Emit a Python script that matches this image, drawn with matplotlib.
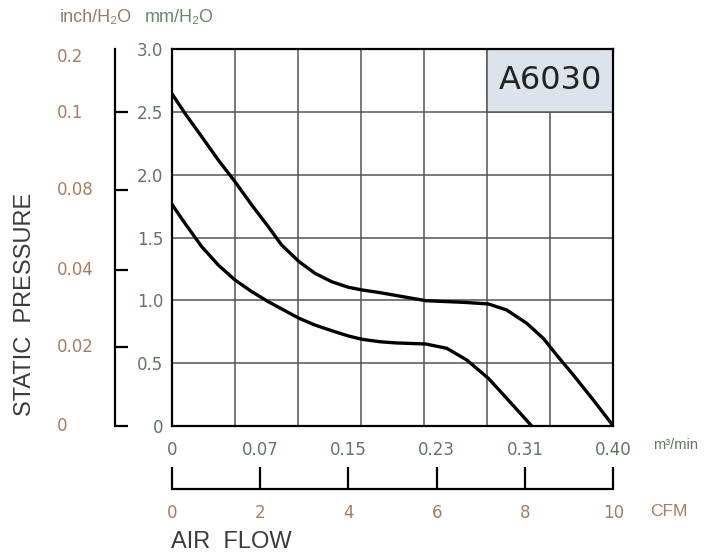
import numpy as np
import matplotlib
matplotlib.use("Agg")
from matplotlib import pyplot as plt
from matplotlib import transforms
from matplotlib.patches import Rectangle

# curves: flow in m3/min, pressure in mm H2O
high_flow = [0, 0.012, 0.0272, 0.0422, 0.0573, 0.0725, 0.0875, 0.0996, 0.1153, 0.1298,
             0.1449, 0.16, 0.1727, 0.1887, 0.2301, 0.2641, 0.2868, 0.3034, 0.3216,
             0.3366, 0.3487, 0.3638, 0.3819, 0.40]
high_pres = [2.649, 2.490, 2.304, 2.118, 1.946, 1.760, 1.587, 1.441, 1.309, 1.216,
             1.149, 1.105, 1.083, 1.062, 0.998, 0.985, 0.972, 0.924, 0.818,
             0.698, 0.565, 0.406, 0.207, 0]
low_flow = [0, 0.012, 0.0272, 0.0422, 0.0573, 0.0725, 0.0875, 0.1026, 0.1153, 0.1298,
            0.1449, 0.16, 0.1727, 0.1887, 0.2023, 0.2301, 0.2491, 0.2672, 0.2868,
            0.3034, 0.3261]
low_pres = [1.768, 1.614, 1.428, 1.282, 1.163, 1.070, 0.990, 0.918, 0.858, 0.804,
            0.759, 0.717, 0.690, 0.671, 0.662, 0.653, 0.619, 0.526, 0.380,
            0.221, 0]

flow_ticks = [0, 0.08, 0.16, 0.24, 0.32, 0.40]
flow_labels = ["0", "0.07", "0.15", "0.23", "0.31", "0.40"]
cfm_ticks = [0, 2, 4, 6, 8, 10]
mm_ticks = [0, 0.5, 1.0, 1.5, 2.0, 2.5, 3.0]
mm_labels = ["0", "0.5", "1.0", "1.5", "2.0", "2.5", "3.0"]
# inch marks, placed on the mm scale
inch_ticks = [0, 0.63, 1.24, 1.88, 2.5]
inch_labels = ["0", "0.02", "0.04", "0.08", "0.1", "0.2"]
inch_label_pos = [0.0, 0.63, 1.24, 1.88, 2.49, 2.94]
model = "A6030"

BROWN = "#a97c62"
GREEN = "#5f765f"
GREY = "#3a3a3a"
NUM_FONT = "DejaVu Sans"

plt.rcParams['font.family'] = ['Liberation Sans', 'DejaVu Sans']

W, H = 726, 556
fig = plt.figure(figsize=(W / 100, H / 100), dpi=100)


def box(l, t, r, b):
    return [l / W, 1 - b / H, (r - l) / W, (b - t) / H]


# main chart
ax = fig.add_axes(box(171.7, 49.3, 613.3, 426))
for xs, ys in [(high_flow, high_pres), (low_flow, low_pres)]:
    ax.plot(xs, ys, color='black', lw=2.4, solid_capstyle='round',
            solid_joinstyle='round', zorder=4)
ax.set_xlim(0, 0.4)
ax.set_ylim(0, 3)
ax.set_xticks(flow_ticks)
ax.set_xticklabels(flow_labels, color=GREEN, fontsize=12, family=NUM_FONT)
ax.set_xticks(np.linspace(0, 0.4, 8), minor=True)
ax.set_yticks(mm_ticks)
ax.set_yticklabels(mm_labels, color=GREEN, fontsize=12, family=NUM_FONT)
ax.tick_params(which='both', length=0)
ax.tick_params(axis='x', pad=11)
ax.tick_params(axis='y', pad=6)
ax.grid(which='minor', axis='x', color='#555555', lw=1.1)
ax.grid(which='major', axis='y', color='#555555', lw=1.1)
ax.set_axisbelow(True)
for s in ax.spines.values():
    s.set_linewidth(1.6)
    s.set_color('black')

# model box in the top right corner
step = 0.4 / 7
ax.add_patch(Rectangle((5 * step, 2.5), 2 * step, 0.5, facecolor='#dde3ea',
                       edgecolor='#555555', lw=1.1, zorder=1))
ax.text(6 * step, 2.75, model, fontsize=23, family=NUM_FONT, color='#222222',
        ha='center', va='center', zorder=3)

fig.text(653 / W, 1 - 445 / H, "m³/min", color=GREEN, fontsize=10.5, va='center')

# CFM scale under the chart
cax = fig.add_axes(box(171.7, 488, 613.3, 489))
cax.set_facecolor('none')
for k in ['top', 'left', 'right']:
    cax.spines[k].set_visible(False)
cax.spines['bottom'].set_linewidth(1.6)
cax.set_xlim(0, 10)
cax.set_yticks([])
cax.set_xticks(cfm_ticks)
cax.set_xticklabels([str(c) for c in cfm_ticks], color=BROWN, fontsize=12, family=NUM_FONT)
cax.tick_params(axis='x', direction='in', length=16, width=1.6, pad=11)
fig.text(650 / W, 1 - 512 / H, "CFM", color=BROWN, fontsize=12.5, va='center')

# inch scale on the left
iax = fig.add_axes(box(115, 49.3, 140, 426))
iax.set_facecolor('none')
for k in ['top', 'bottom', 'right']:
    iax.spines[k].set_visible(False)
iax.spines['left'].set_linewidth(1.6)
iax.set_ylim(0, 3)
iax.set_xticks([])
iax.set_yticks(inch_ticks)
iax.set_yticklabels([])
iax.tick_params(axis='y', direction='in', length=9.5, width=1.6)
trans = transforms.blended_transform_factory(fig.transFigure, iax.transData)
for lab, pos in zip(inch_labels, inch_label_pos):
    iax.text(57 / W, pos, lab, transform=trans, color=BROWN, fontsize=12,
             family=NUM_FONT, ha='left', va='center')

# headers and axis titles
fig.text(60 / W, 1 - 18 / H, "inch/H₂O", color='#9c7a68', fontsize=13, va='center')
fig.text(145 / W, 1 - 18 / H, "mm/H₂O", color='#6b866b', fontsize=13, va='center')
fig.text(171 / W, 1 - 542 / H, "AIR  FLOW", color=GREY, fontsize=17, va='center')
fig.text(25 / W, 1 - 304 / H, "STATIC  PRESSURE", color=GREY, fontsize=17,
         rotation=90, ha='center', va='center')

fig.savefig('out.png', dpi=100)
